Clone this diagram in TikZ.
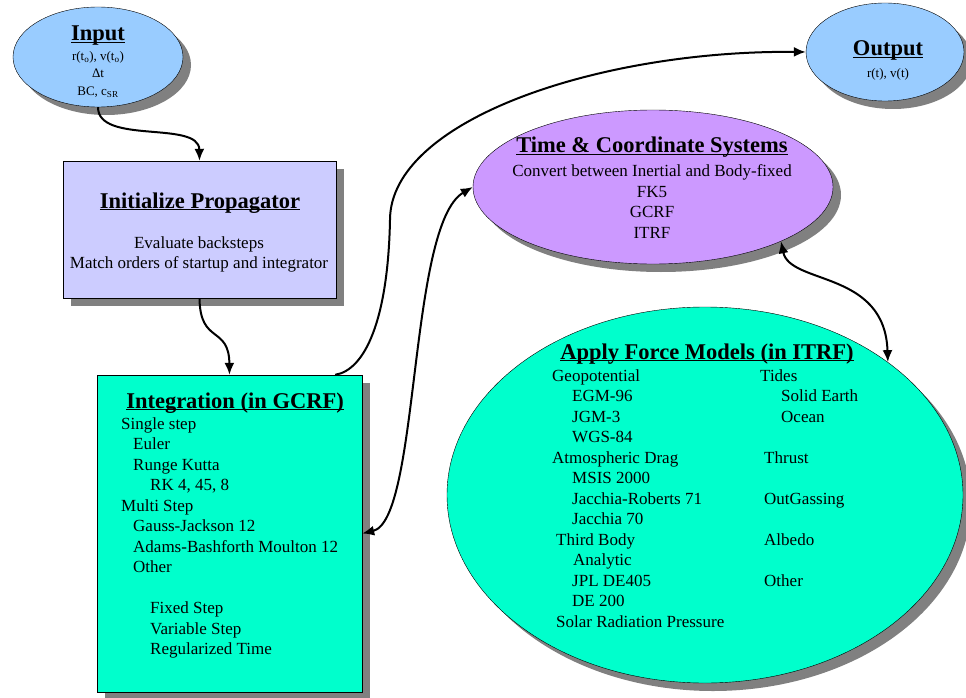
\documentclass[tikz,border=0pt]{standalone}
\usepackage{fontspec}
\setmainfont{Liberation Serif}
\usepackage{xcolor}
\usetikzlibrary{shapes.geometric,shadows,arrows.meta}

\definecolor{skyblue}{HTML}{99CCFF}
\definecolor{lavender}{HTML}{CCCCFF}
\definecolor{lilac}{HTML}{CC99FF}
\definecolor{aqua}{HTML}{00FFCC}

\newcommand{\headline}[1]{\underline{\smash{#1}}}

\tikzset{
  shade8/.style={drop shadow={shadow xshift=8pt,shadow yshift=-8pt,fill=gray,opacity=1}},
  blob/.style={ellipse,draw,thin,inner sep=0pt,shade8},
  panel/.style={rectangle,draw,thin,inner sep=0pt,shade8},
  head/.style={inner sep=0pt,anchor=base,font=\fontsize{22.5}{27}\selectfont\bfseries},
  body/.style={inner sep=0pt,font=\fontsize{17}{20.5}\selectfont},
  small/.style={inner sep=0pt,font=\fontsize{13}{17.5}\selectfont},
  flow/.style={line width=2pt,-{Latex[length=12pt,width=10pt]}},
  both/.style={line width=2pt,{Latex[length=12pt,width=10pt]}-{Latex[length=12pt,width=10pt]}},
}

\begin{document}
\begin{tikzpicture}[x=1pt,y=-1pt]
\useasboundingbox (0,0) rectangle (966,698);

\node(In)    [blob,fill=skyblue,minimum width=170pt,minimum height=100pt] at (98,57) {};
\node(Out)   [blob,fill=skyblue,minimum width=158pt,minimum height=98pt] at (885,52) {};
\node(Init)  [panel,fill=lavender,minimum width=273pt,minimum height=137pt] at (199.5,229.5) {};
\node(Integ) [panel,fill=aqua,minimum width=265pt,minimum height=317pt] at (229.5,533.5) {};
\node(TC)    [blob,fill=lilac,minimum width=360pt,minimum height=154pt] at (653,187) {};
\node(FM)    [blob,fill=aqua,minimum width=516pt,minimum height=376pt] at (705,495) {};

\node(InT)   [head] at (98,41) {\headline{Input}};
\node(InL)   [small,align=center,anchor=north] at (98,51)
  {r(t\textsubscript{o}), v(t\textsubscript{o})\\Δt\\BC, c\textsubscript{SR}};
\node(OutT)  [head] at (888,56) {\headline{Output}};
\node(OutL)  [small,anchor=base] at (888,78) {r(t), v(t)};

\node(InitT) [head] at (200,208) {\headline{Initialize Propagator}};
\node(InitL) [body,align=center,anchor=north] at (199,236.4)
  {Evaluate backsteps\\Match orders of startup and integrator};

\node(IntegT) [head] at (235,408) {\headline{Integration (in GCRF)}};
\node(IntegL) [body,align=left,anchor=north west] at (121,417.4)
  {Single step\\
   \hspace*{12pt}Euler\\
   \hspace*{12pt}Runge Kutta\\
   \hspace*{29pt}RK 4, 45, 8\\
   Multi Step\\
   \hspace*{12pt}Gauss-Jackson 12\\
   \hspace*{12pt}Adams-Bashforth Moulton 12\\
   \hspace*{12pt}Other\\[20.5pt]
   \hspace*{29pt}Fixed Step\\
   \hspace*{29pt}Variable Step\\
   \hspace*{29pt}Regularized Time};

\node(TCT)   [head] at (652,153) {\headline{Time \& Coordinate Systems}};
\node(TCL)   [body,align=center,anchor=north] at (652,164.4)
  {Convert between Inertial and Body-fixed\\FK5\\GCRF\\ITRF};

\node(FMT)   [head] at (707,359) {\headline{Apply Force Models (in ITRF)}};
\node(FML)   [body,align=left,anchor=north west] at (552,369.4)
  {Geopotential\\
   \hspace*{20pt}EGM-96\\
   \hspace*{20pt}JGM-3\\
   \hspace*{20pt}WGS-84\\
   Atmospheric Drag\\
   \hspace*{20pt}MSIS 2000\\
   \hspace*{20pt}Jacchia-Roberts 71\\
   \hspace*{20pt}Jacchia 70\\
   \hspace*{4pt}Third Body\\
   \hspace*{21pt}Analytic\\
   \hspace*{20pt}JPL DE405\\
   \hspace*{20pt}DE 200\\
   \hspace*{4pt}Solar Radiation Pressure};
\node(FMR)   [body,align=left,anchor=north west] at (760,369.4)
  {Tides\\
   \hspace*{21pt}Solid Earth\\
   \hspace*{21pt}Ocean\\[20.5pt]
   \hspace*{4pt}Thrust\\[20.5pt]
   \hspace*{4pt}OutGassing\\[20.5pt]
   \hspace*{4pt}Albedo\\[20.5pt]
   \hspace*{4pt}Other};

\draw[flow] (In.south) .. controls (98,145) and (199,120) .. (Init.north);
\draw[flow] (Init.south) .. controls (200,345) and (229,325) .. (Integ.north);
\draw[flow] ([xshift=-27pt]Integ.north east) .. controls (365,370) and (388,320) .. (390,220)
  .. controls (390,120) and (600,50) .. (Out.west);
\draw[both] (Integ.east) .. controls (420,520) and (408,225) .. (TC.west);
\draw[both] (TC.-23) .. controls (790,285) and (885,270) .. (FM.36);
\end{tikzpicture}
\end{document}
